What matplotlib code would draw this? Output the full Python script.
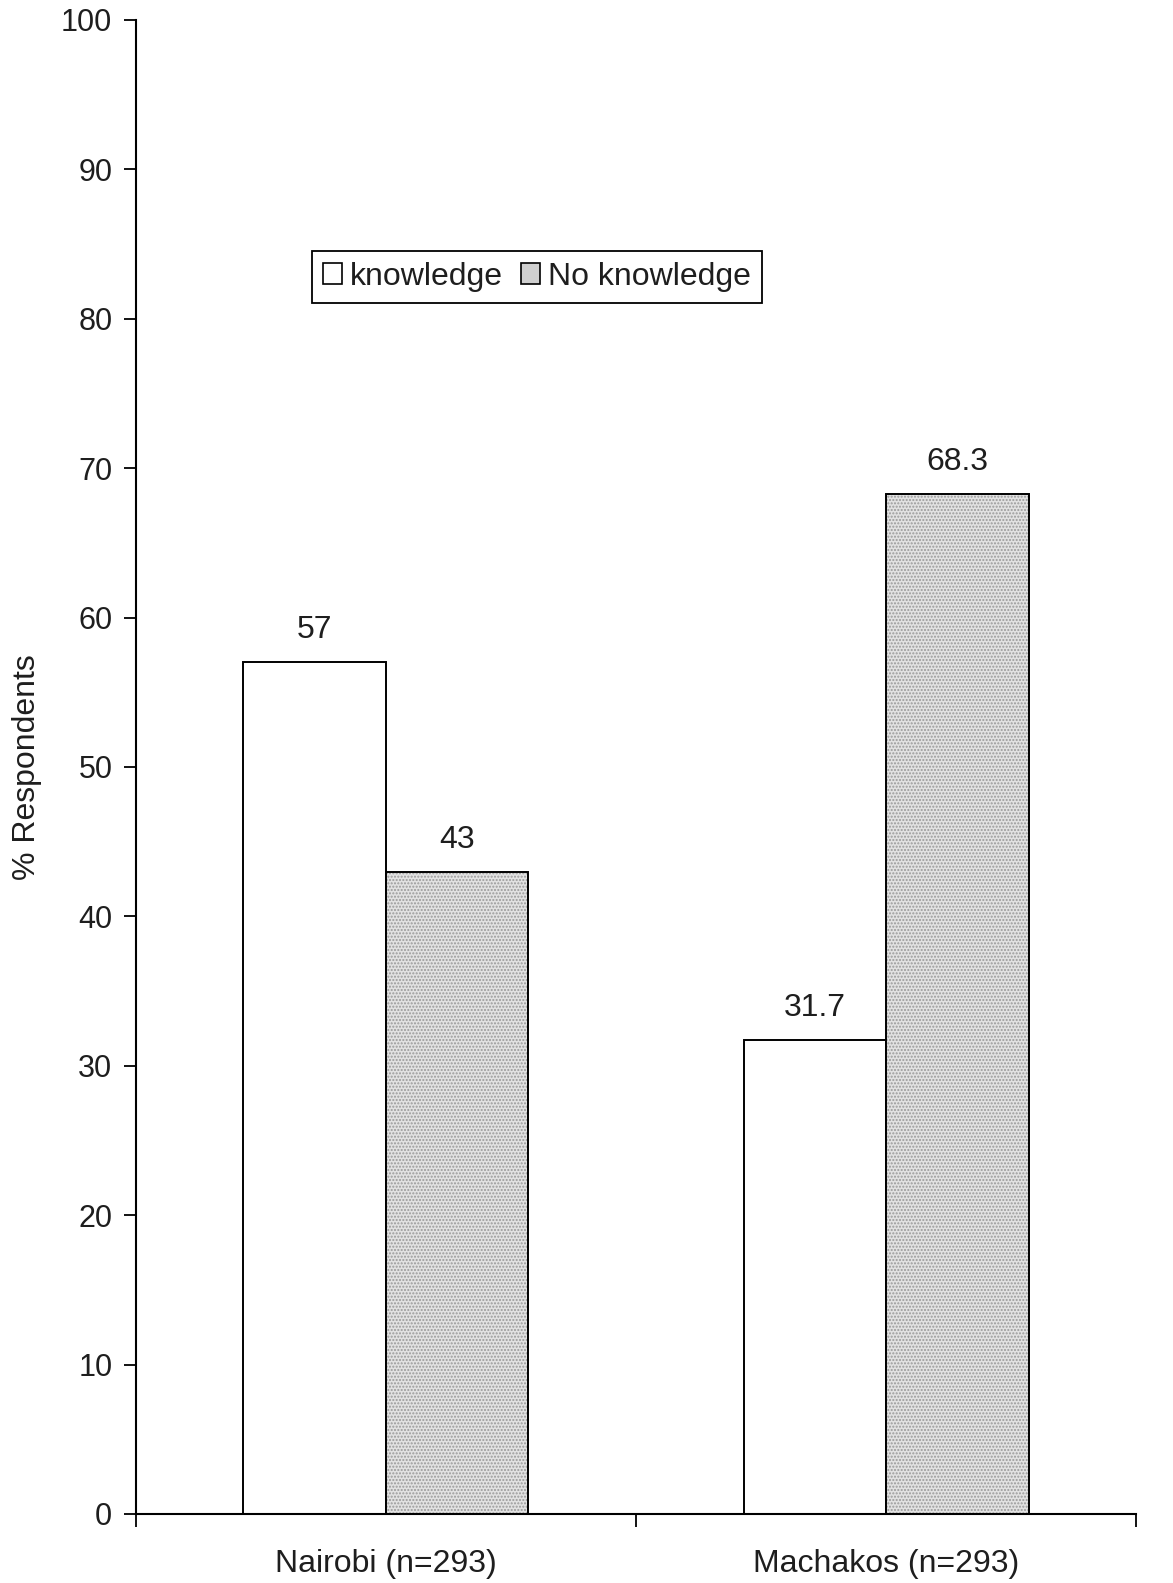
import matplotlib
matplotlib.use("Agg")
import matplotlib.pyplot as plt
from matplotlib.patches import Patch
import numpy as np

plt.rcParams['font.family'] = ['Liberation Sans', 'DejaVu Sans']

categories = ["Nairobi (n=293)", "Machakos (n=293)"]
knowledge = [57, 31.7]
no_knowledge = [43, 68.3]
knowledge_labels = ["57", "31.7"]
no_knowledge_labels = ["43", "68.3"]
series_names = ["knowledge", "No knowledge"]
yticks = [0, 10, 20, 30, 40, 50, 60, 70, 80, 90, 100]

fig = plt.figure(figsize=(11.73, 15.83), dpi=100)
ax = fig.add_axes([0.1159, 0.0436, 0.8526, 0.9438])

x = np.arange(len(categories))
w = 0.285
gray_face = '#e2e2e2'
dot_col = '#9a9a9a'
txt = '#1e1e1e'

ax.bar(x - w / 2, knowledge, w, facecolor='white', edgecolor='black', linewidth=1.4, zorder=2)
ax.bar(x + w / 2, no_knowledge, w, facecolor=gray_face, edgecolor=dot_col, hatch='.....',
       linewidth=0, zorder=2)
ax.bar(x + w / 2, no_knowledge, w, fill=False, edgecolor='black', linewidth=1.4, zorder=3)

for xi, v, t in zip(x - w / 2, knowledge, knowledge_labels):
    ax.annotate(t, (xi, v), xytext=(0, 23), textcoords='offset points', ha='center',
                va='center', fontsize=23, color=txt)
for xi, v, t in zip(x + w / 2, no_knowledge, no_knowledge_labels):
    ax.annotate(t, (xi, v), xytext=(0, 23), textcoords='offset points', ha='center',
                va='center', fontsize=23, color=txt)

ax.set_xlim(-0.5, 1.5)
ax.set_ylim(0, 100)
ax.set_yticks(yticks)
ax.set_yticklabels([str(t) for t in yticks], fontsize=22, color=txt)
ax.set_xticks([-0.5, 0.5, 1.5])
ax.set_xticklabels([])
ax.set_xticks(x, minor=True)
ax.set_xticklabels(categories, minor=True, fontsize=23, color=txt)
ax.tick_params(axis='x', which='minor', length=0, pad=25)
ax.tick_params(axis='x', which='major', length=9, width=1.3, direction='out')
ax.tick_params(axis='y', length=9, width=1.3, direction='out', pad=8)

for s in ['top', 'right']:
    ax.spines[s].set_visible(False)
for s in ['left', 'bottom']:
    ax.spines[s].set_linewidth(1.5)

ax.set_ylabel("% Respondents", fontsize=23, color=txt, labelpad=14)

handles = [
    Patch(facecolor='white', edgecolor='black', linewidth=1.2),
    Patch(facecolor='#cfcfcf', edgecolor='black', linewidth=1.2),
]
leg = ax.legend(handles, series_names, loc='lower left', bbox_to_anchor=(0.176, 0.8106),
                ncol=2, fontsize=23, frameon=True, fancybox=False, edgecolor='black',
                framealpha=1, handlelength=0.6, handleheight=0.6, handletextpad=0.25,
                columnspacing=0.55, borderpad=0.35, borderaxespad=0)
leg.get_frame().set_linewidth(1.3)
for t in leg.get_texts():
    t.set_color(txt)

fig.savefig("out.png", dpi=100, facecolor='white')
